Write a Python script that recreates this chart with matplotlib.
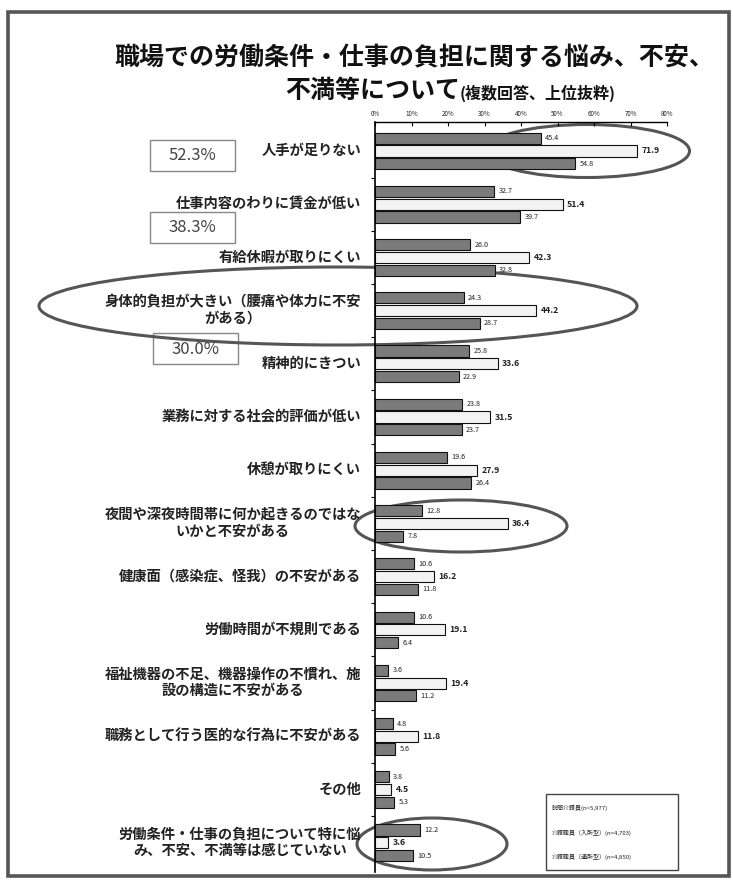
import matplotlib
matplotlib.use("Agg")
import matplotlib.pyplot as plt
import numpy as np
from matplotlib.patches import Ellipse, Rectangle

plt.rcParams['font.family'] = ['Noto Sans CJK JP', 'DejaVu Sans']

# ---- data -------------------------------------------------------------
categories = [
    "人手が足りない",
    "仕事内容のわりに賃金が低い",
    "有給休暇が取りにくい",
    "身体的負担が大きい（腰痛や体力に不安\nがある）",
    "精神的にきつい",
    "業務に対する社会的評価が低い",
    "休憩が取りにくい",
    "夜間や深夜時間帯に何か起きるのではな\nいかと不安がある",
    "健康面（感染症、怪我）の不安がある",
    "労働時間が不規則である",
    "福祉機器の不足、機器操作の不慣れ、施\n設の構造に不安がある",
    "職務として行う医的な行為に不安がある",
    "その他",
    "労働条件・仕事の負担について特に悩\nみ、不安、不満等は感じていない",
]
series_names = [
    "訪問介護員(n=5,977)",
    "介護職員（入所型）(n=4,703)",
    "介護職員（通所型）(n=4,850)",
]
home_helper = [45.4, 32.7, 26.0, 24.3, 25.8, 23.8, 19.6, 12.8, 10.6, 10.6, 3.6, 4.8, 3.8, 12.2]
residential = [71.9, 51.4, 42.3, 44.2, 33.6, 31.5, 27.9, 36.4, 16.2, 19.1, 19.4, 11.8, 4.5, 3.6]
day_service = [54.8, 39.7, 32.8, 28.7, 22.9, 23.7, 26.4, 7.8, 11.8, 6.4, 11.2, 5.6, 5.3, 10.5]
overall_values = ["52.3%", "38.3%", "30.0%"]
tick_values = [0, 10, 20, 30, 40, 50, 60, 70, 80]
tick_labels = [f"{v}%" for v in tick_values]

# ---- figure -------------------------------------------------------------
W, H = 733, 880
fig = plt.figure(figsize=(W / 100, H / 100), dpi=100)

# overlay axes in pixel units for frame, title and call-outs
ov = fig.add_axes([0, 0, 1, 1])
ov.set_xlim(0, W)
ov.set_ylim(H, 0)
ov.axis("off")

# bar axes
ax_left, ax_right, ax_top, ax_bottom = 375, 667, 122, 872
ax = fig.add_axes([ax_left / W, 1 - ax_bottom / H,
                   (ax_right - ax_left) / W, (ax_bottom - ax_top) / H])
ax.patch.set_alpha(0)

n = len(categories)
y = np.arange(n)
off = 0.24
h = 0.21
dark = "#7b7b7b"
light = "#f3f3f3"
ax.barh(y - off, home_helper, height=h, color=dark, edgecolor="#111", lw=0.8)
ax.barh(y, residential, height=h, color=light, edgecolor="#111", lw=0.8)
ax.barh(y + off, day_service, height=h, color=dark, edgecolor="#111", lw=0.8)

for vals, dy, fs, fw in [(home_helper, -off, 5.2, "normal"),
                         (residential, 0, 6.3, "bold"),
                         (day_service, off, 5.2, "normal")]:
    for i, v in enumerate(vals):
        ax.text(v + 1.2, i + dy, f"{v:.1f}", va="center", ha="left",
                fontsize=fs, fontweight=fw, color="#222", clip_on=False)

ax.set_xlim(0, 80)
ax.set_ylim(13.55, -0.545)
ax.xaxis.tick_top()
ax.set_xticks(tick_values)
ax.set_xticklabels(tick_labels, fontsize=4.5, color="#222")
ax.tick_params(axis="x", direction="in", length=3, pad=3, width=0.8)
ax.set_yticks(np.arange(n - 1) + 0.5)
ax.set_yticklabels([])
ax.tick_params(axis="y", direction="out", length=3, width=0.8)
for s in ["right", "bottom"]:
    ax.spines[s].set_visible(False)
ax.spines["top"].set_linewidth(1.0)
ax.spines["left"].set_linewidth(1.2)

# category labels
for i, c in enumerate(categories):
    yc = 151 + 53.2 * i
    ov.text(361, yc, c, ha="right", va="center", multialignment="center",
            fontsize=10.3, fontweight="bold", color="#222", linespacing=1.2)

# frame
ov.add_patch(Rectangle((8, 12), 721, 864, fill=False, lw=2.6, edgecolor="#555"))

# title
ov.text(414, 58, "職場での労働条件・仕事の負担に関する悩み、不安、",
        ha="center", va="center", fontsize=18, fontweight="bold", color="#111")
ov.text(460, 91, "不満等について", ha="right", va="center",
        fontsize=18, fontweight="bold", color="#111")
ov.text(460, 93, "(複数回答、上位抜粋)", ha="left", va="center",
        fontsize=11.5, fontweight="bold", color="#111")

# overall-value boxes
for (x0, y0), txt in zip([(150, 140), (150, 212), (153, 333)], overall_values):
    ov.add_patch(Rectangle((x0, y0), 85, 31, fill=False, lw=1.0, edgecolor="#888"))
    ov.text(x0 + 42.5, y0 + 16, txt, ha="center", va="center",
            fontsize=12, color="#444")

# highlight ellipses
for cx, cy, w, hh in [(587, 151, 205, 53), (338, 306, 598, 78),
                      (461, 526, 212, 52), (432, 844, 150, 52)]:
    ov.add_patch(Ellipse((cx, cy), w, hh, fill=False, lw=2.2, edgecolor="#555"))

# legend
ov.add_patch(Rectangle((546, 794), 132, 76, fill=False, lw=1.0, edgecolor="#444"))
for k, name in enumerate(series_names):
    ov.text(552, 808 + 24.5 * k, name, ha="left", va="center",
            fontsize=4.3, color="#222")

fig.savefig("out.png", dpi=100, facecolor="white")
